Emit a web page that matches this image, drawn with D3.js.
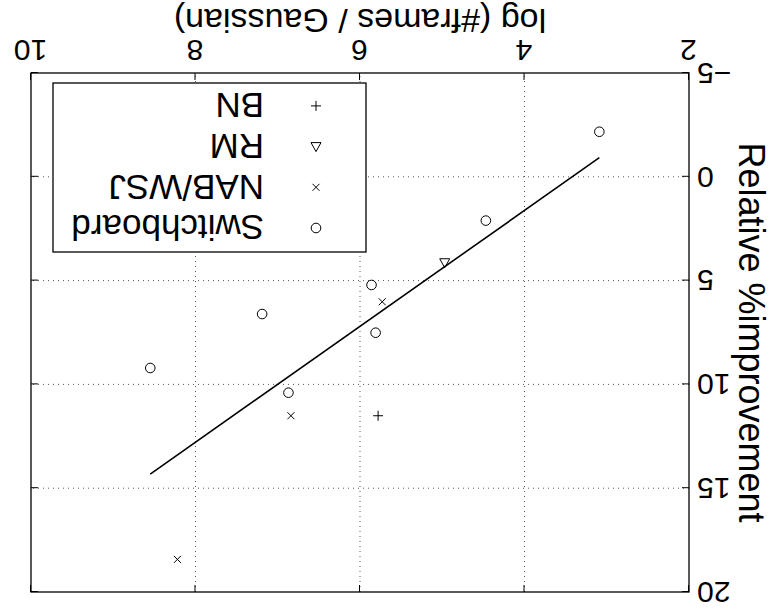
<!DOCTYPE html>
<html><head><meta charset="utf-8">
<script src="https://cdn.jsdelivr.net/npm/d3@7"></script>
<style>body{margin:0;background:#fff}text{font-family:"Liberation Sans",Arial,sans-serif;fill:#000}</style>
</head><body>
<svg id="c" width="772" height="614"></svg>
<script>
// Data
const switchboardX = [3.09, 4.47, 5.86, 5.81, 7.19, 8.55, 6.87];
const switchboardY = [-2.17, 2.11, 5.21, 7.51, 6.61, 9.21, 10.40];
const nabX = [5.73, 6.84, 8.22];
const nabY = [6.02, 11.51, 18.43];
const rmX = [4.97];
const rmY = [4.14];
const bnX = [5.78];
const bnY = [11.51];
const fitX = [3.09, 8.55];
const fitY = [-0.92, 14.32];
const xTicks = [2, 4, 6, 8, 10];
const yTicks = [-5, 0, 5, 10, 15, 20];
const legendLabels = ["Switchboard", "NAB/WSJ", "RM", "BN"];
const xLabel = "log (#frames / Gaussian)";
const yLabel = "Relative %improvement";

const W = 772, H = 614;
const m = {l: 83, r: 741, t: 22, b: 541};
const svg = d3.select("#c");
const root = svg.append("g").attr("transform", `rotate(180, ${W/2}, ${H/2})`);

const x = d3.scaleLinear().domain([2, 10]).range([m.l, m.r]);
const y = d3.scaleLinear().domain([-5, 20]).range([m.b, m.t]);

// grid
const grid = root.append("g").attr("stroke", "#555").attr("stroke-width", 1).attr("stroke-dasharray", "1,4");
grid.selectAll(".gx").data(xTicks.slice(1, -1)).join("line")
  .attr("x1", d => x(d)).attr("x2", d => x(d)).attr("y1", m.t).attr("y2", m.b);
grid.selectAll(".gy").data(yTicks.slice(1, -1)).join("line")
  .attr("y1", d => y(d)).attr("y2", d => y(d)).attr("x1", m.l).attr("x2", m.r);

// axes with inward ticks on all sides
const tl = 7;
const fmt = d => d < 0 ? "\u2212" + Math.abs(d) : String(d);
const axB = root.append("g").attr("transform", `translate(0,${m.b})`)
  .call(d3.axisBottom(x).tickValues(xTicks).tickSize(-tl).tickPadding(12).tickFormat(fmt));
const axT = root.append("g").attr("transform", `translate(0,${m.t})`)
  .call(d3.axisTop(x).tickValues(xTicks).tickSize(-tl).tickFormat(""));
const axL = root.append("g").attr("transform", `translate(${m.l},0)`)
  .call(d3.axisLeft(y).tickValues(yTicks).tickSize(-tl).tickPadding(8).tickFormat(fmt));
const axR = root.append("g").attr("transform", `translate(${m.r},0)`)
  .call(d3.axisRight(y).tickValues(yTicks).tickSize(-tl).tickFormat(""));
[axB, axT, axL, axR].forEach(a => {
  a.selectAll(".domain").remove();
  a.selectAll(".tick line").attr("stroke", "#000").attr("stroke-width", 1);
  a.selectAll("text").style("font-size", "30px").attr("fill", "#000").style("font-family", '"Liberation Sans",Arial,sans-serif');
});
axB.selectAll("text").attr("dy", "0.71em");
// box
root.append("rect").attr("x", m.l).attr("y", m.t).attr("width", m.r - m.l).attr("height", m.b - m.t)
  .attr("fill", "none").attr("stroke", "#000").attr("stroke-width", 1.3);

// labels
root.append("text").attr("x", (m.l + m.r) / 2).attr("y", 605).attr("text-anchor", "middle")
  .style("font-size", "34px").text(xLabel);
root.append("text").attr("transform", `translate(33,${(m.t + m.b) / 2}) rotate(-90)`)
  .attr("text-anchor", "middle").style("font-size", "36px").text(yLabel);

// fit line
const line = d3.line().x(d => x(d[0])).y(d => y(d[1]));
root.append("path").datum(fitX.map((v, i) => [v, fitY[i]])).attr("d", line)
  .attr("fill", "none").attr("stroke", "#000").attr("stroke-width", 1.6);

// marker drawers
const sym = {
  circle: (g) => g.append("circle").attr("r", 4.8).attr("fill", "none").attr("stroke", "#000").attr("stroke-width", 1),
  cross: (g) => g.append("path").attr("d", "M-3.5,-3.5L3.5,3.5M-3.5,3.5L3.5,-3.5").attr("stroke", "#000").attr("stroke-width", 1),
  tri: (g) => g.append("path").attr("d", "M0,-5L5,4L-5,4Z").attr("fill", "none").attr("stroke", "#000").attr("stroke-width", 1),
  plus: (g) => g.append("path").attr("d", "M-5,0L5,0M0,-5L0,5").attr("stroke", "#000").attr("stroke-width", 1)
};
function drawSeries(xs, ys, kind) {
  xs.forEach((v, i) => {
    const g = root.append("g").attr("transform", `translate(${x(v)},${y(ys[i])})`);
    sym[kind](g);
  });
}
drawSeries(switchboardX, switchboardY, "circle");
drawSeries(nabX, nabY, "cross");
drawSeries(rmX, rmY, "tri");
drawSeries(bnX, bnY, "plus");

// legend
const lg = root.append("g");
lg.append("rect").attr("x", 406).attr("y", 362).attr("width", 313).attr("height", 169)
  .attr("fill", "#fff").attr("stroke", "#000").attr("stroke-width", 1.3);
const kinds = ["circle", "cross", "tri", "plus"];
legendLabels.forEach((lab, i) => {
  const yy = 386 + i * 40.7;
  const g = lg.append("g").attr("transform", `translate(456,${yy})`);
  sym[kinds[i]](g);
  lg.append("text").attr("x", 508).attr("y", yy).attr("dy", "0.36em")
    .style("font-size", "35px").text(lab);
});
</script>
</body></html>
